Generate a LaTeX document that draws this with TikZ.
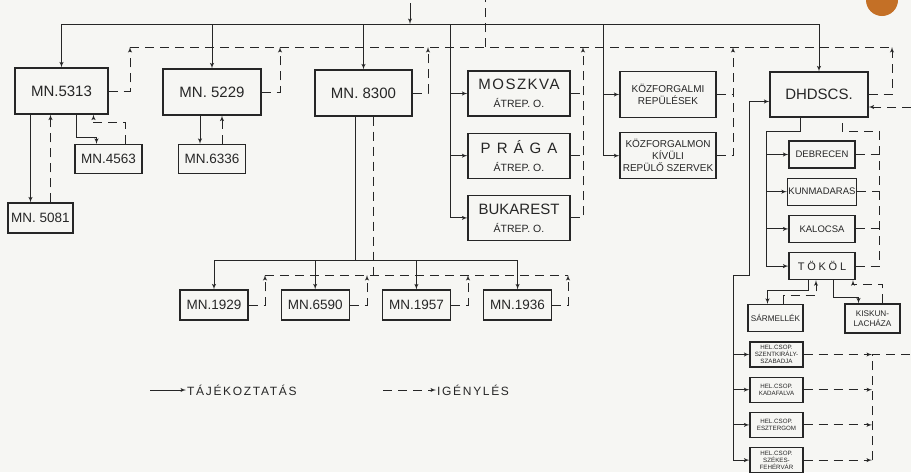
\documentclass[tikz,border=0pt]{standalone}
\usepackage{fontspec}
\setmainfont{Liberation Sans}
\usetikzlibrary{shapes,arrows,positioning}

\definecolor{papir}{RGB}{246,246,243}
\definecolor{tinta}{RGB}{38,38,38}
\definecolor{rozsda}{RGB}{196,112,38}

\newcommand\nagy{\fontsize{15}{18}\selectfont}
\newcommand\kicsi{\fontsize{10.5}{15}\selectfont}
\newcommand\ritka[1]{{\addfontfeature{LetterSpace=10}#1}}

\begin{document}
\begin{tikzpicture}[
        x=1pt, y=-1pt,
        color=tinta,
        node distance=9pt and 32pt,
        block/.style={
            rectangle,
            draw,
            line width=1.2pt,
            inner sep=1pt,
            align=center,
            minimum width=96pt,
            minimum height=46pt,
            font=\nagy
        },
        unit/.style={block, minimum width=67pt, minimum height=29pt,
            font=\fontsize{13.5}{16}\selectfont},
        airport/.style={block, minimum width=102pt, minimum height=45pt},
        office/.style={block, font=\fontsize{10}{12}\selectfont},
        station/.style={block, minimum width=66pt, minimum height=27pt,
            font=\fontsize{9.5}{11}\selectfont},
        field/.style={block, minimum width=55pt, minimum height=27pt,
            font=\fontsize{8.2}{9.5}\selectfont},
        helblock/.style={block, minimum width=53pt, minimum height=25pt,
            font=\fontsize{6.2}{7}\selectfont},
        legend/.style={anchor=west, inner sep=1pt,
            font=\fontsize{12}{14}\selectfont\addfontfeature{LetterSpace=14}},
        conn/.style={draw, line width=0.9pt},
        line/.style={conn, -latex'},
        reqline/.style={conn, dash pattern=on 9pt off 6pt},
        req/.style={reqline, -latex'}
    ]
        \fill[papir] (0,0) rectangle (911,472);
        \useasboundingbox (0,0) rectangle (911,472);
        \fill[rozsda] (866,0) arc[start angle=180, end angle=0, radius=16];

        % -- Csomópontok (Nodes) --

        % Felső sor
        \node [block, minimum width=93pt] (m5313) at (61.5,91) {MN.5313};
        \node [block, minimum width=98pt] (m5229) at (212,92) {MN. 5229};
        \node [block, minimum width=97pt] (m8300) at (363.5,93) {MN. 8300};

        % Alárendelt egységek
        \node [unit] (m4563) at (108.5,159) {MN.4563};
        \node [unit] (m6336) at (212,159) {MN.6336};
        \node [unit, minimum width=65pt, minimum height=30pt] (m5081) at (40.5,218) {MN. 5081};

        % Átrepülő osztályok
        \node [airport] (moszkva) at (519,93.5) {\ritka{MOSZKVA}\\{\kicsi ÁTREP. O.}};
        \node [airport, below=16pt of moszkva] (praga) {\addfontfeature{LetterSpace=40}PRÁGA\\{\kicsi ÁTREP. O.}};
        \node [airport, below=16pt of praga] (bukarest) {BUKAREST\\{\kicsi ÁTREP. O.}};

        % Közforgalom
        \node [office] (kozf) at (668,94.5) {KÖZFORGALMI\\REPÜLÉSEK};
        \node [office, below=14pt of kozf] (kivuli) {KÖZFORGALMON\\KÍVÜLI\\REPÜLŐ SZERVEK};

        % DHDSCS és repülőterei
        \node [block, minimum width=98pt, minimum height=45pt] (dhdscs) at (819,94.5) {DHDSCS.};
        \node [station] (debrecen) at (822,154.5) {DEBRECEN};
        \node [station, below=of debrecen] (kunmad) {KUNMADARAS};
        \node [station, below=of kunmad] (kalocsa) {KALOCSA};
        \node [station, below=of kalocsa, font=\fontsize{11}{13}\selectfont] (tokol) {\addfontfeature{LetterSpace=25}TÖKÖL};
        \node [field] (sarmellek) at (775.5,318) {SÁRMELLÉK};
        \node [field, minimum height=29pt] (kiskun) at (872.5,318.5) {KISKUN-\\LACHÁZA};

        % Helyőrségi csoportok
        \node [helblock] (hel1) at (776.5,354.5) {HEL.CSOP.\\SZENTKIRÁLY-\\SZABADJA};
        \node [helblock, below=of hel1] (hel2) {HEL.CSOP.\\KADAFALVA};
        \node [helblock, below=of hel2] (hel3) {HEL.CSOP.\\ESZTERGOM};
        \node [helblock, below=of hel3] (hel4) {HEL.CSOP.\\SZÉKES-\\FEHÉRVÁR};

        % Alsó sor
        \node [unit, minimum width=68pt, minimum height=30pt] (m1929) at (214,305) {MN.1929};
        \node [unit, minimum width=68pt, minimum height=30pt, right=of m1929] (m6590) {MN.6590};
        \node [unit, minimum width=68pt, minimum height=30pt, right=of m6590] (m1957) {MN.1957};
        \node [unit, minimum width=68pt, minimum height=30pt, right=of m1957] (m1936) {MN.1936};

        % Jelmagyarázat
        \node [legend] (tajek) at (186,390) {TÁJÉKOZTATÁS};
        \node [legend] (igeny) at (436,390) {IGÉNYLÉS};

        % -- Vonalak (Paths) --

        % Felső gerinc (tájékoztatás)
        \coordinate (src) at (410,3);
        \coordinate (trunk) at (0,24);
        \path [line] (src) -- (src |- trunk);
        \path [conn] (m5313.north |- trunk) -- (dhdscs.north |- trunk);
        \foreach \n in {m5313,m5229,m8300,dhdscs}
            \path [line] (\n.north |- trunk) -- (\n.north);

        \coordinate (colA) at (450,24);
        \path [line] (colA) |- (bukarest.west);
        \foreach \n in {moszkva,praga}
            \path [line] (colA |- \n.west) -- (\n.west);
        \coordinate (colB) at (603,24);
        \path [line] (colB) |- (kivuli.west);
        \path [line] (colB |- kozf.west) -- (kozf.west);

        % Igénylési gerinc
        \coordinate (qW) at (130,47);
        \coordinate (q2) at (280,47);
        \coordinate (q3) at (428,47);
        \coordinate (q4) at (583,47);
        \coordinate (q5) at (733,47);
        \coordinate (qE) at (892,47);
        \coordinate (outq) at (485,0);
        \path [reqline] (qW) -- (qE);
        \path [reqline] (outq |- qW) -- (outq);
        \path [req] (m5313.east) -| (qW);
        \path [req] (m5229.east) -| (q2);
        \path [req] (m8300.east) -| (q3);
        \path [req] (bukarest.east) -| (q4);
        \foreach \n in {moszkva,praga}
            \path [reqline] (\n.east) -- (\n.east -| q4);
        \path [req] (kivuli.east) -| (q5);
        \path [reqline] (kozf.east) -- (kozf.east -| q5);
        \path [req] (dhdscs.east) -| (qE);

        % MN.5313 és MN.5229 alá
        \path [line] ([xshift=-10pt]m5081.north |- m5313.south) -- ([xshift=-10pt]m5081.north);
        \path [req] ([xshift=10pt]m5081.north) -- ([xshift=10pt]m5081.north |- m5313.south);
        \path [line] ([xshift=15pt]m5313.south) -- ++(0,-23pt) -| ([xshift=-12pt]m4563.north);
        \path [req] ([xshift=17pt]m4563.north) -- ++(0,21pt) -| ([xshift=32pt]m5313.south);
        \path [line] ([xshift=-12pt]m6336.north |- m5229.south) -- ([xshift=-12pt]m6336.north);
        \path [req] ([xshift=10pt]m6336.north) -- ([xshift=10pt]m6336.north |- m5229.south);

        % MN.8300 alá
        \coordinate (busS) at (355,260);
        \coordinate (busQ) at (373,275);
        \path [conn] (busS |- m8300.south) -- (busS);
        \path [conn] (m1929.north |- busS) -- (m1936.north |- busS);
        \foreach \n in {m1929,m6590,m1957,m1936}
            \path [line] (\n.north |- busS) -- (\n.north);
        \path [reqline] (busQ |- m8300.south) -- (busQ);
        \foreach \n/\x in {m1929/265,m6590/367,m1957/468,m1936/568} {
            \coordinate (r-\n) at (\x,275);
            \path [req] (\n.east) -| (r-\n);
        }
        \path [reqline] (r-m1929) -- (r-m1936);

        % DHDSCS alá
        \coordinate (dL) at (766,131);
        \coordinate (dR) at (879,131);
        \path [line] ([xshift=-19pt]dhdscs.south) |- (dL) |- (tokol.west);
        \foreach \n in {debrecen,kunmad,kalocsa}
            \path [line] (dL |- \n.west) -- (\n.west);
        \path [reqline] (tokol.east) -| (dR) -| ([xshift=23pt]dhdscs.south);
        \foreach \n in {debrecen,kunmad,kalocsa}
            \path [reqline] (\n.east) -- (\n.east -| dR);

        % TÖKÖL alá
        \path [line] ([xshift=-14pt]tokol.south) -- ++(0,-10pt) -| ([xshift=-8pt]sarmellek.north);
        \path [req] ([xshift=8pt]sarmellek.north) -- ++(0,8pt) -| ([xshift=-6pt]tokol.south);
        \path [line] ([xshift=11pt]tokol.south) -- ++(0,-17pt) -| ([xshift=-14pt]kiskun.north);
        \path [req] ([xshift=10pt]kiskun.north) -- ++(0,19pt) -| ([xshift=31pt]tokol.south);

        % Helyőrségi csoportok
        \coordinate (hA) at (749,275);
        \coordinate (hB) at (733,275);
        \coordinate (hR) at (872,0);
        \coordinate (edge) at (911,107);
        \path [line] (hB |- hel4.west) -- (hB) -- (hA) |- ([yshift=-7pt]dhdscs.west);
        \foreach \n in {hel1,hel2,hel3,hel4} {
            \path [line] (hB |- \n.west) -- (\n.west);
            \path [req] (\n.east) -- (\n.east -| hR);
        }
        \path [reqline] (hR |- hel4.east) -- (hR |- hel1.east) -- (edge |- hel1.east);
        \path [req] (edge) -- (edge -| dhdscs.east);

        % Jelmagyarázat vonalai
        \coordinate (legA) at (150,390);
        \coordinate (legB) at (383,390);
        \path [line] (legA) -- (tajek.west);
        \path [req] (legB) -- (igeny.west);

    \end{tikzpicture}
\end{document}
